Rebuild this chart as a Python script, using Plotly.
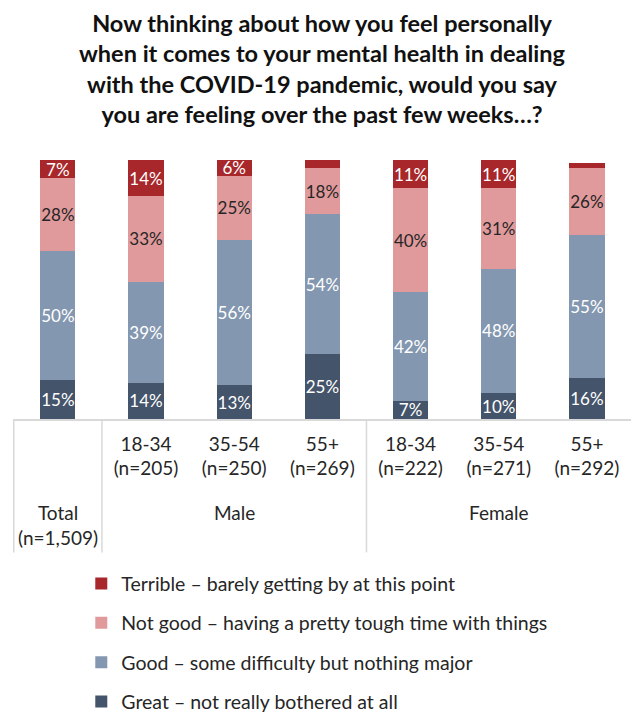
import plotly.graph_objects as go

# ---- data ----
categories = ["Total", "M 18-34", "M 35-54", "M 55+", "F 18-34", "F 35-54", "F 55+"]
tick_labels = ["", "18-34<br>(n=205)", "35-54<br>(n=250)", "55+<br>(n=269)",
               "18-34<br>(n=222)", "35-54<br>(n=271)", "55+<br>(n=292)"]
great = [15, 14, 13, 25, 7, 10, 16]
good = [50, 39, 56, 54, 42, 48, 55]
not_good = [28, 33, 25, 18, 40, 31, 26]
terrible = [7, 14, 6, 3, 11, 11, 2]

series_names = [
    "Great – not really bothered at all",
    "Good – some difficulty but nothing major",
    "Not good – having a pretty tough time with things",
    "Terrible – barely getting by at this point",
]
series_values = [great, good, not_good, terrible]
legend_ranks = [4, 3, 2, 1]
colors = ["#44546A", "#8497B0", "#E09A9B", "#A8272A"]
label_colors = ["white", "white", "#262626", "white"]

title_text = ("Now thinking about how you feel personally<br>"
              "when it comes to your mental health in dealing<br>"
              "with the COVID-19 pandemic, would you say<br>"
              "you are feeling over the past few weeks…?")

FONT = "Lato"

fig = go.Figure()
for name, vals, col, lc, rk in zip(series_names, series_values, colors, label_colors, legend_ranks):
    fig.add_trace(go.Bar(
        x=categories, y=vals, name=name,
        marker=dict(color=col, line=dict(width=0)),
        text=[f"{v}%" if v >= 5 else "" for v in vals],
        textposition="inside", insidetextanchor="middle",
        constraintext="none", textangle=0,
        textfont=dict(family=FONT, size=17, color=lc),
        legendgroup=name, legendrank=rk,
        hoverinfo="skip",
    ))

grid = "#D9D9D9"
shapes = []
for xv in [-0.5, 0.5, 3.5]:
    shapes.append(dict(type="line", xref="x", yref="paper", x0=xv, x1=xv,
                       y0=0, y1=-0.515, line=dict(color=grid, width=1.5)))

ann_font = dict(family=FONT, size=19, color="#262626")
annotations = [
    dict(text="Total<br>(n=1,509)", x=categories[0], xref="x", yref="paper",
         y=-0.310, yanchor="top", showarrow=False, font=ann_font),
    dict(text="Male", x=categories[2], xref="x", yref="paper",
         y=-0.310, yanchor="top", showarrow=False, font=ann_font),
    dict(text="Female", x=categories[5], xref="x", yref="paper",
         y=-0.310, yanchor="top", showarrow=False, font=ann_font),
]

fig.update_layout(
    width=640, height=728,
    barmode="stack", bargap=0.6,
    paper_bgcolor="white", plot_bgcolor="white",
    margin=dict(l=13, r=9, t=160, b=309, autoexpand=False),
    title=dict(text=title_text, x=0.5, xref="paper", xanchor="center",
               y=1 - 31.5 / 728, yref="container", yanchor="middle",
               font=dict(family=FONT, size=23.5, color="#111111", weight="bold")),
    xaxis=dict(tickmode="array", tickvals=categories, ticktext=tick_labels,
               ticks="", showline=True, linecolor=grid, linewidth=1.5,
               showgrid=False, zeroline=False, fixedrange=True,
               ticklabelstandoff=7,
               tickfont=dict(family=FONT, size=19, color="#262626")),
    yaxis=dict(range=[0, 100], visible=False, fixedrange=True),
    legend=dict(orientation="v", x=0.1105, xanchor="left", y=-0.561, yanchor="top",
                traceorder="grouped", tracegroupgap=11,
                font=dict(family=FONT, size=19.5, color="#262626"),
                bgcolor="rgba(0,0,0,0)"),
    shapes=shapes, annotations=annotations,
    showlegend=True,
)

fig.write_html("out.html", config={"displayModeBar": False},
               post_script="document.body.style.margin='0px';")
